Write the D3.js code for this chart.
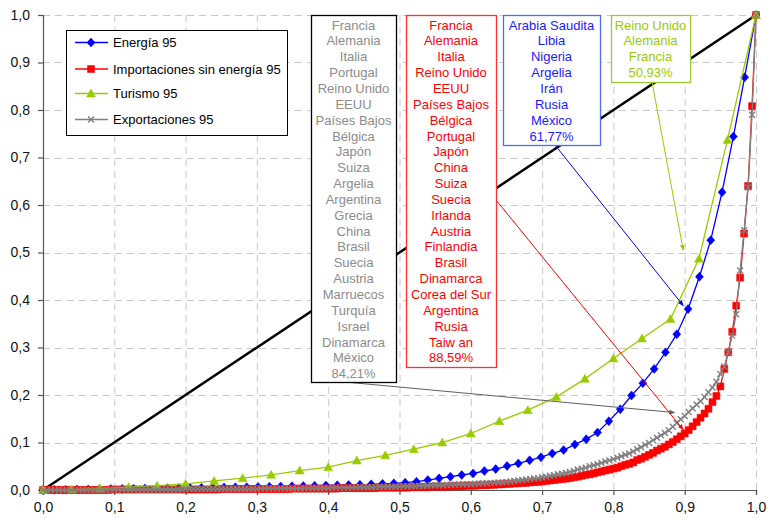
<!DOCTYPE html>
<html><head><meta charset="utf-8">
<script src="https://cdn.jsdelivr.net/npm/d3@7"></script>
<style>body{margin:0;background:#fff}svg{display:block;font-family:"Liberation Sans",Arial,sans-serif}</style>
</head><body><svg id="c" width="768" height="519"></svg>
<script>
// ---------------- DATA ----------------
const tickValues = [0,0.1,0.2,0.3,0.4,0.5,0.6,0.7,0.8,0.9,1.0];
const tickLabels = ["0,0","0,1","0,2","0,3","0,4","0,5","0,6","0,7","0,8","0,9","1,0"];
const seriesNames = ["Energía 95","Importaciones sin energía 95","Turismo 95","Exportaciones 95"];
const seriesColors = ["#0000ff","#ff0000","#99cc00","#808080"];

// Energía 95 (64 countries, cumulative share)
const energia = [
 0,0.0003,0.0006,0.001,0.0013,0.0016,0.002,0.0023,0.0026,0.003,
 0.0033,0.0036,0.004,0.0043,0.0046,0.005,0.0053,0.0057,0.006,0.0065,
 0.007,0.0075,0.008,0.0085,0.009,0.0095,0.010,0.0105,0.011,0.012,
 0.013,0.014,0.0155,0.0175,0.021,0.0246,0.028,0.0316,0.035,0.040,
 0.044,0.0505,0.056,0.0625,0.069,0.077,0.084,0.096,0.107,0.121,
 0.145,0.170,0.199,0.225,0.255,0.290,0.328,0.381,0.449,0.526,
 0.627,0.744,0.869,1.0];

// Importaciones sin energía 95 (181 points)
const importaciones = [
 0,0,0,0,0,0,0,0,0,0,
 0,0,0,0,0,0,0,0.001,0.001,0.001,
 0.001,0.001,0.001,0.001,0.001,0.001,0.001,0.001,0.001,0.001,
 0.001,0.001,0.001,0.001,0.001,0.001,0.001,0.001,0.001,0.001,
 0.001,0.001,0.001,0.001,0.001,0.002,0.002,0.002,0.002,0.002,
 0.002,0.002,0.002,0.002,0.002,0.002,0.002,0.002,0.002,0.002,
 0.002,0.002,0.002,0.003,0.003,0.003,0.003,0.003,0.003,0.003,
 0.003,0.003,0.003,0.003,0.003,0.004,0.004,0.004,0.004,0.004,
 0.004,0.004,0.004,0.004,0.004,0.005,0.005,0.005,0.005,0.005,
 0.005,0.005,0.005,0.006,0.006,0.006,0.006,0.006,0.007,0.007,
 0.007,0.007,0.007,0.008,0.008,0.008,0.008,0.009,0.009,0.009,
 0.010,0.010,0.010,0.011,0.011,0.012,0.012,0.013,0.013,0.014,
 0.014,0.015,0.015,0.016,0.017,0.017,0.018,0.019,0.020,0.021,
 0.022,0.023,0.024,0.025,0.027,0.028,0.030,0.032,0.033,0.035,
 0.037,0.039,0.041,0.043,0.045,0.047,0.050,0.053,0.055,0.058,
 0.063,0.066,0.070,0.074,0.078,0.083,0.087,0.091,0.096,0.101,
 0.107,0.113,0.119,0.126,0.134,0.143,0.152,0.161,0.171,0.185,
 0.198,0.218,0.255,0.290,0.333,0.388,0.447,0.540,0.640,0.808,
 1.0];

// Turismo 95 (26 points)
const turismo = [
 0,0.001,0.003,0.006,0.009,0.013,0.019,0.025,0.032,0.041,
 0.048,0.062,0.073,0.086,0.100,0.119,0.145,0.168,0.196,0.234,
 0.277,0.319,0.360,0.487,0.737,1.0];

// Exportaciones 95 (181 points)
const exportaciones = [
 0,0,0,0,0,0,0,0,0,0,
 0,0,0,0,0,0,0,0.001,0.001,0.001,
 0.001,0.001,0.001,0.001,0.001,0.001,0.001,0.001,0.001,0.001,
 0.001,0.001,0.001,0.001,0.001,0.001,0.002,0.002,0.002,0.002,
 0.002,0.002,0.002,0.002,0.002,0.002,0.002,0.002,0.002,0.002,
 0.002,0.002,0.002,0.002,0.002,0.003,0.003,0.003,0.003,0.003,
 0.003,0.003,0.003,0.003,0.003,0.003,0.004,0.004,0.004,0.004,
 0.004,0.004,0.004,0.005,0.005,0.005,0.005,0.005,0.005,0.006,
 0.006,0.006,0.006,0.006,0.006,0.007,0.007,0.007,0.007,0.007,
 0.007,0.008,0.008,0.008,0.008,0.009,0.009,0.009,0.010,0.010,
 0.010,0.010,0.011,0.011,0.011,0.012,0.012,0.012,0.012,0.013,
 0.013,0.014,0.014,0.015,0.015,0.016,0.016,0.017,0.018,0.019,
 0.020,0.021,0.022,0.023,0.024,0.025,0.027,0.028,0.030,0.031,
 0.033,0.034,0.036,0.038,0.040,0.043,0.045,0.047,0.050,0.052,
 0.054,0.057,0.060,0.062,0.065,0.068,0.071,0.074,0.077,0.081,
 0.086,0.090,0.095,0.099,0.105,0.110,0.115,0.120,0.126,0.133,
 0.141,0.149,0.156,0.164,0.172,0.180,0.187,0.196,0.206,0.216,
 0.228,0.244,0.260,0.290,0.325,0.370,0.462,0.547,0.637,0.790,
 1.0];

// Annotation boxes
const grayBox = ["Francia","Alemania","Italia","Portugal","Reino Unido","EEUU","Países Bajos","Bélgica","Japón","Suiza","Argelia","Argentina","Grecia","China","Brasil","Suecia","Austria","Marruecos","Turquía","Israel","Dinamarca","México","84,21%"];
const redBox = ["Francia","Alemania","Italia","Reino Unido","EEUU","Países Bajos","Bélgica","Portugal","Japón","China","Suiza","Suecia","Irlanda","Austria","Finlandia","Brasil","Dinamarca","Corea del Sur","Argentina","Rusia","Taiw an","88,59%"];
const blueBox = ["Arabia Saudita","Libia","Nigeria","Argelia","Irán","Rusia","México","61,77%"];
const greenBox = ["Reino Unido","Alemania","Francia","50,93%"];
// arrow targets (data coordinates)
const arrowTargets = [[0.886,0.163],[0.898,0.127],[0.898,0.388],[0.898,0.505]];

// ---------------- CHART ----------------
const svg = d3.select("#c");
const x = d3.scaleLinear().domain([0,1]).range([43,756]);
const y = d3.scaleLinear().domain([0,1]).range([490,15]);

// grid
const grid = svg.append("g").attr("stroke","#c8c8c8").attr("stroke-dasharray","7,5").attr("stroke-width",1);
tickValues.filter(v=>v>0).forEach(v=>{
  grid.append("line").attr("x1",x(v)+0.5).attr("x2",x(v)+0.5).attr("y1",y(0)).attr("y2",y(1));
  grid.append("line").attr("y1",Math.round(y(v))+0.5).attr("y2",Math.round(y(v))+0.5).attr("x1",x(0)).attr("x2",x(1));
});

// axes
const fmt = v => tickLabels[tickValues.indexOf(v)];
const yAxis = svg.append("g").attr("transform",`translate(${x(0)},0)`)
  .call(d3.axisLeft(y).tickValues(tickValues).tickFormat(fmt).tickSize(5).tickPadding(8));
const xAxis = svg.append("g").attr("transform",`translate(0,${y(0)})`)
  .call(d3.axisBottom(x).tickValues(tickValues).tickFormat(fmt).tickSize(5).tickPadding(7));
[yAxis,xAxis].forEach(a=>{
  a.selectAll("path,line").attr("stroke","#555").attr("stroke-width",1.2);
  a.selectAll("text").attr("font-size",14).attr("fill","#111").attr("font-family","'Liberation Sans',Arial,sans-serif");
});

// diagonal (equal distribution)
svg.append("line").attr("x1",x(0)).attr("y1",y(0)).attr("x2",x(1)).attr("y2",y(1))
  .attr("stroke","#000").attr("stroke-width",2.5);

const shapes = [
  "M0,-4.5L4,0L0,4.5L-4,0Z",
  "M-3.5,-3.5h7v7h-7Z",
  "M0,-4.5L4.5,3.5L-4.5,3.5Z",
  "M-3,-3L3,3M-3,3L3,-3"
];
const allSeries = [energia, importaciones, turismo, exportaciones];
const line = d3.line().x(d=>x(d[0])).y(d=>y(d[1]));

allSeries.forEach((vals,k)=>{
  const n = vals.length-1;
  const pts = vals.map((v,i)=>[i/n, v]);
  const g = svg.append("g");
  g.append("path").attr("d",line(pts)).attr("fill","none").attr("stroke",seriesColors[k]).attr("stroke-width",1.3);
  g.selectAll("path.m").data(pts).join("path").attr("class","m")
    .attr("transform",d=>`translate(${x(d[0])},${y(d[1])})`)
    .attr("d",shapes[k])
    .attr("fill",k===3?"none":seriesColors[k])
    .attr("stroke",seriesColors[k]).attr("stroke-width",k===3?1.4:0.5);
});

// arrow markers
const defs = svg.append("defs");
const arrowColors = ["#606060","#ff0000","#0000ff","#99cc00"];
arrowColors.forEach((c,i)=>{
  defs.append("marker").attr("id","ar"+i).attr("viewBox","0 0 10 10").attr("refX",9).attr("refY",5)
    .attr("markerWidth",6).attr("markerHeight",6).attr("orient","auto-start-reverse")
    .append("path").attr("d","M0,1L10,5L0,9Z").attr("fill",c);
});

// leader lines
const leaderStarts = [[345,382],[496,200],[555,145],[652,82]];
leaderStarts.forEach((s,i)=>{
  svg.append("line").attr("x1",s[0]).attr("y1",s[1])
    .attr("x2",x(arrowTargets[i][0])).attr("y2",y(arrowTargets[i][1]))
    .attr("stroke",arrowColors[i]).attr("stroke-width",1).attr("marker-end",`url(#ar${i})`);
});

// annotation boxes
function box(items, x0, x1, y0, y1, border, color){
  const g = svg.append("g");
  g.append("rect").attr("x",x0+0.5).attr("y",y0+0.5).attr("width",x1-x0).attr("height",y1-y0)
    .attr("fill","#fff").attr("stroke",border).attr("stroke-width",1.3);
  g.selectAll("text").data(items).join("text")
    .attr("x",(x0+x1)/2).attr("y",(d,i)=>25+i*15.85).attr("dy","0.35em")
    .attr("text-anchor","middle").attr("font-size",13).attr("fill",color).text(d=>d);
}
box(grayBox, 311, 396, 15, 382, "#000", "#8c8c8c");
box(redBox, 406, 496, 15, 367, "#ff3030", "#ff0000");
box(blueBox, 503, 600, 15, 145, "#4f6cf5", "#1a1aff");
box(greenBox, 611, 690, 15, 82, "#99cc33", "#99cc00");

// legend
const lg = svg.append("g");
lg.append("rect").attr("x",66.5).attr("y",30.5).attr("width",221).attr("height",105)
  .attr("fill","#fff").attr("stroke","#000").attr("stroke-width",1);
const legY = [42.5,69,93.5,119.5];
seriesNames.forEach((nm,k)=>{
  lg.append("line").attr("x1",75).attr("x2",108).attr("y1",legY[k]).attr("y2",legY[k])
    .attr("stroke",seriesColors[k]).attr("stroke-width",1.3);
  lg.append("path").attr("transform",`translate(91,${legY[k]})`).attr("d",shapes[k])
    .attr("fill",k===3?"none":seriesColors[k]).attr("stroke",seriesColors[k]).attr("stroke-width",k===3?1.4:0.5);
  lg.append("text").attr("x",113).attr("y",legY[k]).attr("dy","0.35em").attr("font-size",13)
    .attr("fill","#000").text(nm);
});
</script></body></html>
